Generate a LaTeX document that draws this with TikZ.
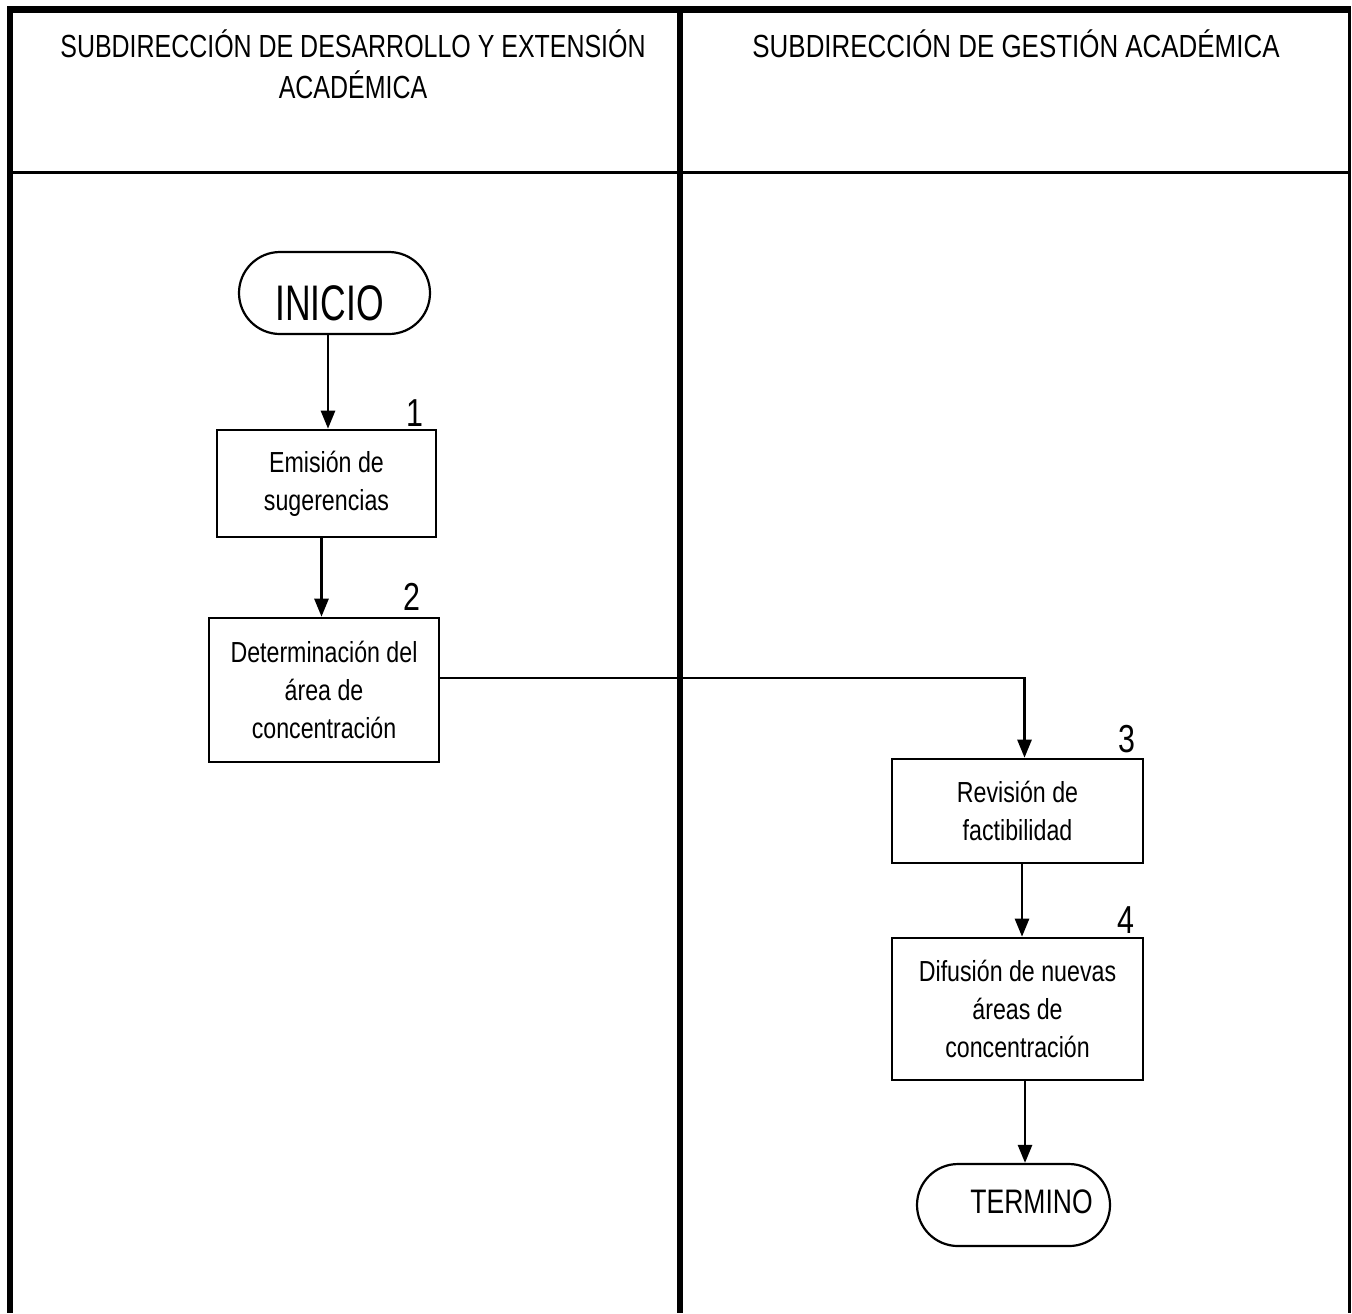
\documentclass[tikz,border=0pt]{standalone}
\usepackage{fontspec}
\setmainfont{Liberation Sans}
\newfontfamily\nar[FakeStretch=0.78]{Liberation Sans}
\newfontfamily\narR[FakeStretch=0.81]{Liberation Sans}
\newfontfamily\narbox[FakeStretch=0.8]{Liberation Sans}
\newfontfamily\narI[FakeStretch=0.71]{Liberation Sans}
\usetikzlibrary{arrows.meta,calc,shapes.misc}
\tikzset{
  thinframe/.style={line width=1.5pt},
  procbox/.style={draw, line width=1.3pt, rectangle, inner sep=0pt, align=center,
    font=\narbox\fontsize{14.5pt}{19pt}\selectfont},
  termbox/.style={draw, line width=1.1pt, rounded rectangle, inner sep=0pt},
  conn/.style={line width=1.3pt, -{Triangle[width=7pt,length=9pt]}},
  numlabel/.style={inner sep=0pt, anchor=south east, font=\nar\fontsize{19.5pt}{19.5pt}\selectfont},
  headtext/.style={inner sep=0pt, align=center, font=\nar\fontsize{16pt}{20.5pt}\selectfont}
}
\begin{document}
\begin{tikzpicture}[x=0.5pt,y=-0.5pt]
\fill[white] (0,0) rectangle (1352,1313);
\useasboundingbox (0,0) rectangle (1352,1313);

% frame
\draw[thinframe] (10,172.5) -- (1349.5,172.5);
\draw[line width=1.5pt] (1349.5,8) -- (1349.5,1313);
\draw[line width=3pt] (10,8) -- (10,1313);
\draw[line width=3pt] (680,8) -- (680,1313);
\draw[line width=3.5pt] (7,9.5) -- (1351,9.5);

% headers
\node[headtext, anchor=north] (h1) at (353,29) {SUBDIRECCIÓN DE DESARROLLO Y EXTENSIÓN\\ACADÉMICA};
\node[headtext, anchor=north, font=\narR\fontsize{16pt}{20.5pt}\selectfont] (h2) at (1016,29) {SUBDIRECCIÓN DE GESTIÓN ACADÉMICA};

% terminals
\node[termbox, minimum width=95.5pt, minimum height=41pt] (inicio) at (334.5,293)
  {\narI\fontsize{25pt}{25pt}\selectfont\raisebox{-13.5pt}[0pt][0pt]{INICIO}\hspace*{5pt}};
\node[termbox, minimum width=96.5pt, minimum height=41pt] (termino) at (1013.5,1205)
  {\hspace*{18pt}\nar\fontsize{17pt}{17pt}\selectfont\raisebox{-4pt}[0pt][0pt]{TERMINO}};

% process boxes
\node[procbox, minimum width=109.5pt, minimum height=53.5pt] (b1) at (326.5,483.5)
  {Emisión de\\sugerencias};
\node[procbox, minimum width=115pt, minimum height=72pt] (b2) at (324,690)
  {Determinación del\\área de\\concentración};
\node[procbox, minimum width=125.5pt, minimum height=52pt] (b3) at (1017.5,811)
  {Revisión de\\factibilidad};
\node[procbox, minimum width=125.5pt, minimum height=71pt] (b4) at (1017.5,1009)
  {Difusión de nuevas\\áreas de\\concentración};

% step numbers
\node[numlabel] (n1) at ([xshift=-6.5pt,yshift=1pt]b1.north east) {1};
\node[numlabel] (n2) at ([xshift=-9.5pt,yshift=3pt]b2.north east) {2};
\node[numlabel] (n3) at ([xshift=-4.5pt,yshift=2pt]b3.north east) {3};
\node[numlabel] (n4) at ([xshift=-5pt,yshift=1.5pt]b4.north east) {4};

% connectors
\draw[conn] ([xshift=-3.25pt]inicio.south) -- ([xshift=-3.25pt]inicio.south |- b1.north);
\draw[conn] ([xshift=-2.5pt]b1.south) -- ([xshift=-2.5pt]b1.south |- b2.north);
\draw[conn] ([yshift=6pt]b2.east) -| ([xshift=3.5pt]b3.north);
\draw[conn] ([xshift=2.25pt]b3.south) -- ([xshift=2.25pt]b3.south |- b4.north);
\draw[conn] ([xshift=3.75pt]b4.south) -- ([xshift=3.75pt]b4.south |- termino.north);
\end{tikzpicture}
\end{document}
